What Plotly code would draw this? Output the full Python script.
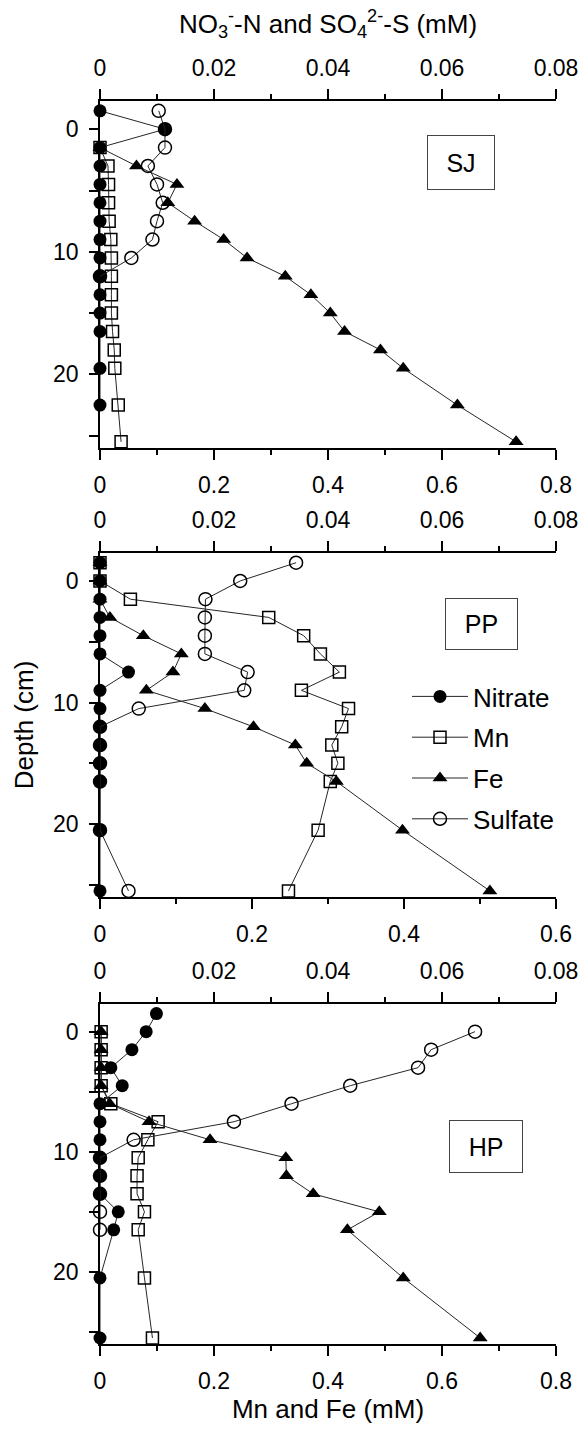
import plotly.graph_objects as go

FONT = "Liberation Sans, Arial, Helvetica, sans-serif"

# ---------------- data (depth in cm, concentrations in mM) ----------------
# SJ
sj_no3_depth = [-1.5, 0, 1.5, 3, 4.5, 6, 7.5, 9, 10.5, 12, 13.5, 15, 16.5, 19.5, 22.5]
sj_no3 = [0, 0.0114, 0, 0, 0, 0, 0, 0, 0, 0, 0, 0, 0, 0, 0]
sj_metal_depth = [1.5, 3, 4.5, 6, 7.5, 9, 10.5, 12, 13.5, 15, 16.5, 18, 19.5, 22.5, 25.5]
sj_mn = [0, 0.014, 0.015, 0.015, 0.016, 0.019, 0.02, 0.02, 0.02, 0.02, 0.022, 0.025, 0.026, 0.032, 0.037]
sj_fe = [0, 0.064, 0.135, 0.119, 0.166, 0.217, 0.258, 0.325, 0.37, 0.404, 0.429, 0.492, 0.532, 0.627, 0.73]
sj_so4_depth = [-1.5, 0, 1.5, 3, 4.5, 6, 7.5, 9, 10.5, 12]
sj_so4 = [0.0103, 0.0114, 0.0114, 0.0084, 0.01, 0.011, 0.01, 0.0092, 0.0055, 0]

# PP
pp_depth = [-1.5, 0, 1.5, 3, 4.5, 6, 7.5, 9, 10.5, 12, 13.5, 15, 16.5, 20.5, 25.5]
pp_no3 = [0, 0, 0, 0, 0, 0, 0.005, 0, 0, 0, 0, 0, 0, 0, 0]
pp_mn = [0, 0, 0.04, 0.222, 0.268, 0.29, 0.315, 0.265, 0.327, 0.318, 0.305, 0.313, 0.303, 0.287, 0.248]
pp_fe = [0, 0, 0, 0.013, 0.057, 0.107, 0.096, 0.061, 0.138, 0.202, 0.257, 0.272, 0.311, 0.398, 0.513]
pp_so4 = [0.0344, 0.0246, 0.0185, 0.0184, 0.0184, 0.0184, 0.0259, 0.0253, 0.0068, 0, 0, 0, 0, 0, 0.005]

# HP
hp_no3_depth = [-1.5, 0, 1.5, 3, 4.5, 6, 7.5, 9, 10.5, 12, 13.5, 15, 16.5, 20.5, 25.5]
hp_no3 = [0.0099, 0.0081, 0.0056, 0.0019, 0.0039, 0, 0, 0, 0, 0, 0, 0.0032, 0.0024, 0, 0]
hp_metal_depth = [0, 1.5, 3, 4.5, 6, 7.5, 9, 10.5, 12, 13.5, 15, 16.5, 20.5, 25.5]
hp_mn = [0.002, 0.002, 0.002, 0.002, 0.019, 0.102, 0.084, 0.067, 0.065, 0.065, 0.078, 0.067, 0.078, 0.092]
hp_fe = [0.002, 0.002, 0.002, 0.002, 0.017, 0.086, 0.193, 0.326, 0.327, 0.374, 0.49, 0.434, 0.532, 0.667]
hp_so4_depth = [0, 1.5, 3, 4.5, 6, 7.5, 9, 10.5, 12, 13.5, 15, 16.5]
hp_so4 = [0.0658, 0.0581, 0.0558, 0.0439, 0.0336, 0.0235, 0.0059, 0, 0, 0, 0, 0]

site_labels = ["SJ", "PP", "HP"]
metal_max = [0.8, 0.6, 0.8]
anion_max = 0.08
depth_ticks = [0, 10, 20]
depth_minor = [5, 15, 25]

panels = [
    dict(no3_d=sj_no3_depth, no3=sj_no3, m_d=sj_metal_depth, mn=sj_mn, fe=sj_fe, s_d=sj_so4_depth, so4=sj_so4),
    dict(no3_d=pp_depth, no3=pp_no3, m_d=pp_depth, mn=pp_mn, fe=pp_fe, s_d=pp_depth, so4=pp_so4),
    dict(no3_d=hp_no3_depth, no3=hp_no3, m_d=hp_metal_depth, mn=hp_mn, fe=hp_fe, s_d=hp_so4_depth, so4=hp_so4),
]

# ---------------- layout geometry ----------------
W, H = 582, 1430
ML, MR, MT, MB = 100, 26, 101, 86
PH = H - MT - MB
def py2paper(py):
    return (H - MB - py) / PH
def px2paper(px):
    return (px - ML) / (W - ML - MR)

domains = [[py2paper(448), 1.0], [py2paper(897), py2paper(553)], [0.0, py2paper(1004)]]
box_centers = [(460.5, 163), (481, 623.5), (485.5, 1146)]
box_sizes = [(66, 53), (71, 50), (72, 51)]

LINE = dict(color="#262626", width=1)
TICKFONT = dict(family=FONT, size=23, color="black")

fig = go.Figure()
for i, p in enumerate(panels):
    xb = "x" if i == 0 else f"x{2*i+1}"
    xt = f"x{2*i+2}"
    yy = "y" if i == 0 else f"y{i+1}"
    show = (i == 1)
    fig.add_trace(go.Scatter(x=p["no3"], y=p["no3_d"], xaxis=xt, yaxis=yy, name="Nitrate",
                             mode="lines+markers", line=LINE, legendgroup="no3", showlegend=show,
                             marker=dict(symbol="circle", size=13, color="black"), cliponaxis=False))
    fig.add_trace(go.Scatter(x=p["mn"], y=p["m_d"], xaxis=xb, yaxis=yy, name="Mn",
                             mode="lines+markers", line=LINE, legendgroup="mn", showlegend=show,
                             marker=dict(symbol="square-open", size=12, color="black",
                                         line=dict(width=1.5, color="black")), cliponaxis=False))
    fig.add_trace(go.Scatter(x=p["fe"], y=p["m_d"], xaxis=xb, yaxis=yy, name="Fe",
                             mode="lines+markers", line=LINE, legendgroup="fe", showlegend=show,
                             marker=dict(symbol="triangle-up", size=13, color="black"), cliponaxis=False))
    fig.add_trace(go.Scatter(x=p["so4"], y=p["s_d"], xaxis=xt, yaxis=yy, name="Sulfate",
                             mode="lines+markers", line=LINE, legendgroup="so4", showlegend=show,
                             marker=dict(symbol="circle-open", size=13, color="black",
                                         line=dict(width=1.5, color="black")), cliponaxis=False))

axis_common = dict(showline=True, linecolor="black", linewidth=1.5, showgrid=False, zeroline=False,
                   ticks="outside", tickcolor="black", tickwidth=1.5, tickfont=TICKFONT, automargin=False)

layout_axes = {}
for i in range(3):
    xb_name = "xaxis" if i == 0 else f"xaxis{2*i+1}"
    xt_name = f"xaxis{2*i+2}"
    y_name = "yaxis" if i == 0 else f"yaxis{i+1}"
    yref = "y" if i == 0 else f"y{i+1}"
    xb_ref = "x" if i == 0 else f"x{2*i+1}"
    layout_axes[xb_name] = dict(axis_common, range=[0, metal_max[i]], tickmode="linear", tick0=0, dtick=0.2,
                                ticklen=10, anchor=yref, domain=[0, 1], side="bottom",
                                ticklabelstandoff=6,
                                minor=dict(dtick=0.1, tick0=0, ticks="outside", ticklen=5,
                                           tickcolor="black", tickwidth=1.5))
    layout_axes[xt_name] = dict(axis_common, range=[0, anion_max],
                                tickmode="linear", tick0=0, dtick=0.02,
                                ticklen=10, anchor=yref, overlaying=xb_ref, side="top",
                                ticklabelstandoff=4,
                                minor=dict(dtick=0.01, tick0=0, ticks="outside", ticklen=5,
                                           tickcolor="black", tickwidth=1.5))
    layout_axes[y_name] = dict(axis_common, range=[26, -2.3], domain=domains[i], anchor=xb_ref,
                               tickmode="array", tickvals=depth_ticks, ticklen=9, ticklabelstandoff=6,
                               minor=dict(tickvals=depth_minor, ticks="outside", ticklen=9,
                                          tickcolor="black", tickwidth=1.5))

layout_axes["xaxis2"]["title"] = dict(text="NO<sub>3</sub><sup>-</sup>-N and SO<sub>4</sub><sup>2-</sup>-S (mM)",
                                      font=dict(family=FONT, size=26, color="black"), standoff=14)
layout_axes["xaxis5"]["title"] = dict(text="Mn and Fe (mM)", font=dict(family=FONT, size=26, color="black"),
                                      standoff=2)
layout_axes["yaxis2"]["title"] = dict(text="Depth (cm)", font=dict(family=FONT, size=26, color="black"),
                                      standoff=12)

annotations = []
for lab, (cx, cy), (bw, bh) in zip(site_labels, box_centers, box_sizes):
    annotations.append(dict(text=lab, x=px2paper(cx), y=py2paper(cy), xref="paper", yref="paper",
                            xanchor="center", yanchor="middle", showarrow=False,
                            font=dict(family=FONT, size=25, color="black"),
                            width=bw, height=bh, borderpad=0, bordercolor="#444", borderwidth=1,
                            align="center", valign="middle"))

fig.update_layout(
    template="none",
    width=W, height=H,
    margin=dict(l=ML, r=MR, t=MT, b=MB),
    paper_bgcolor="white", plot_bgcolor="rgba(0,0,0,0)",
    font=dict(family=FONT, color="black"),
    showlegend=True,
    legend=dict(x=px2paper(407), y=py2paper(673), xanchor="left", yanchor="top",
                font=dict(family=FONT, size=26, color="black"), itemwidth=56,
                tracegroupgap=4, bgcolor="rgba(0,0,0,0)", borderwidth=0),
    annotations=annotations,
    **layout_axes,
)

fig.write_html("out.html")
